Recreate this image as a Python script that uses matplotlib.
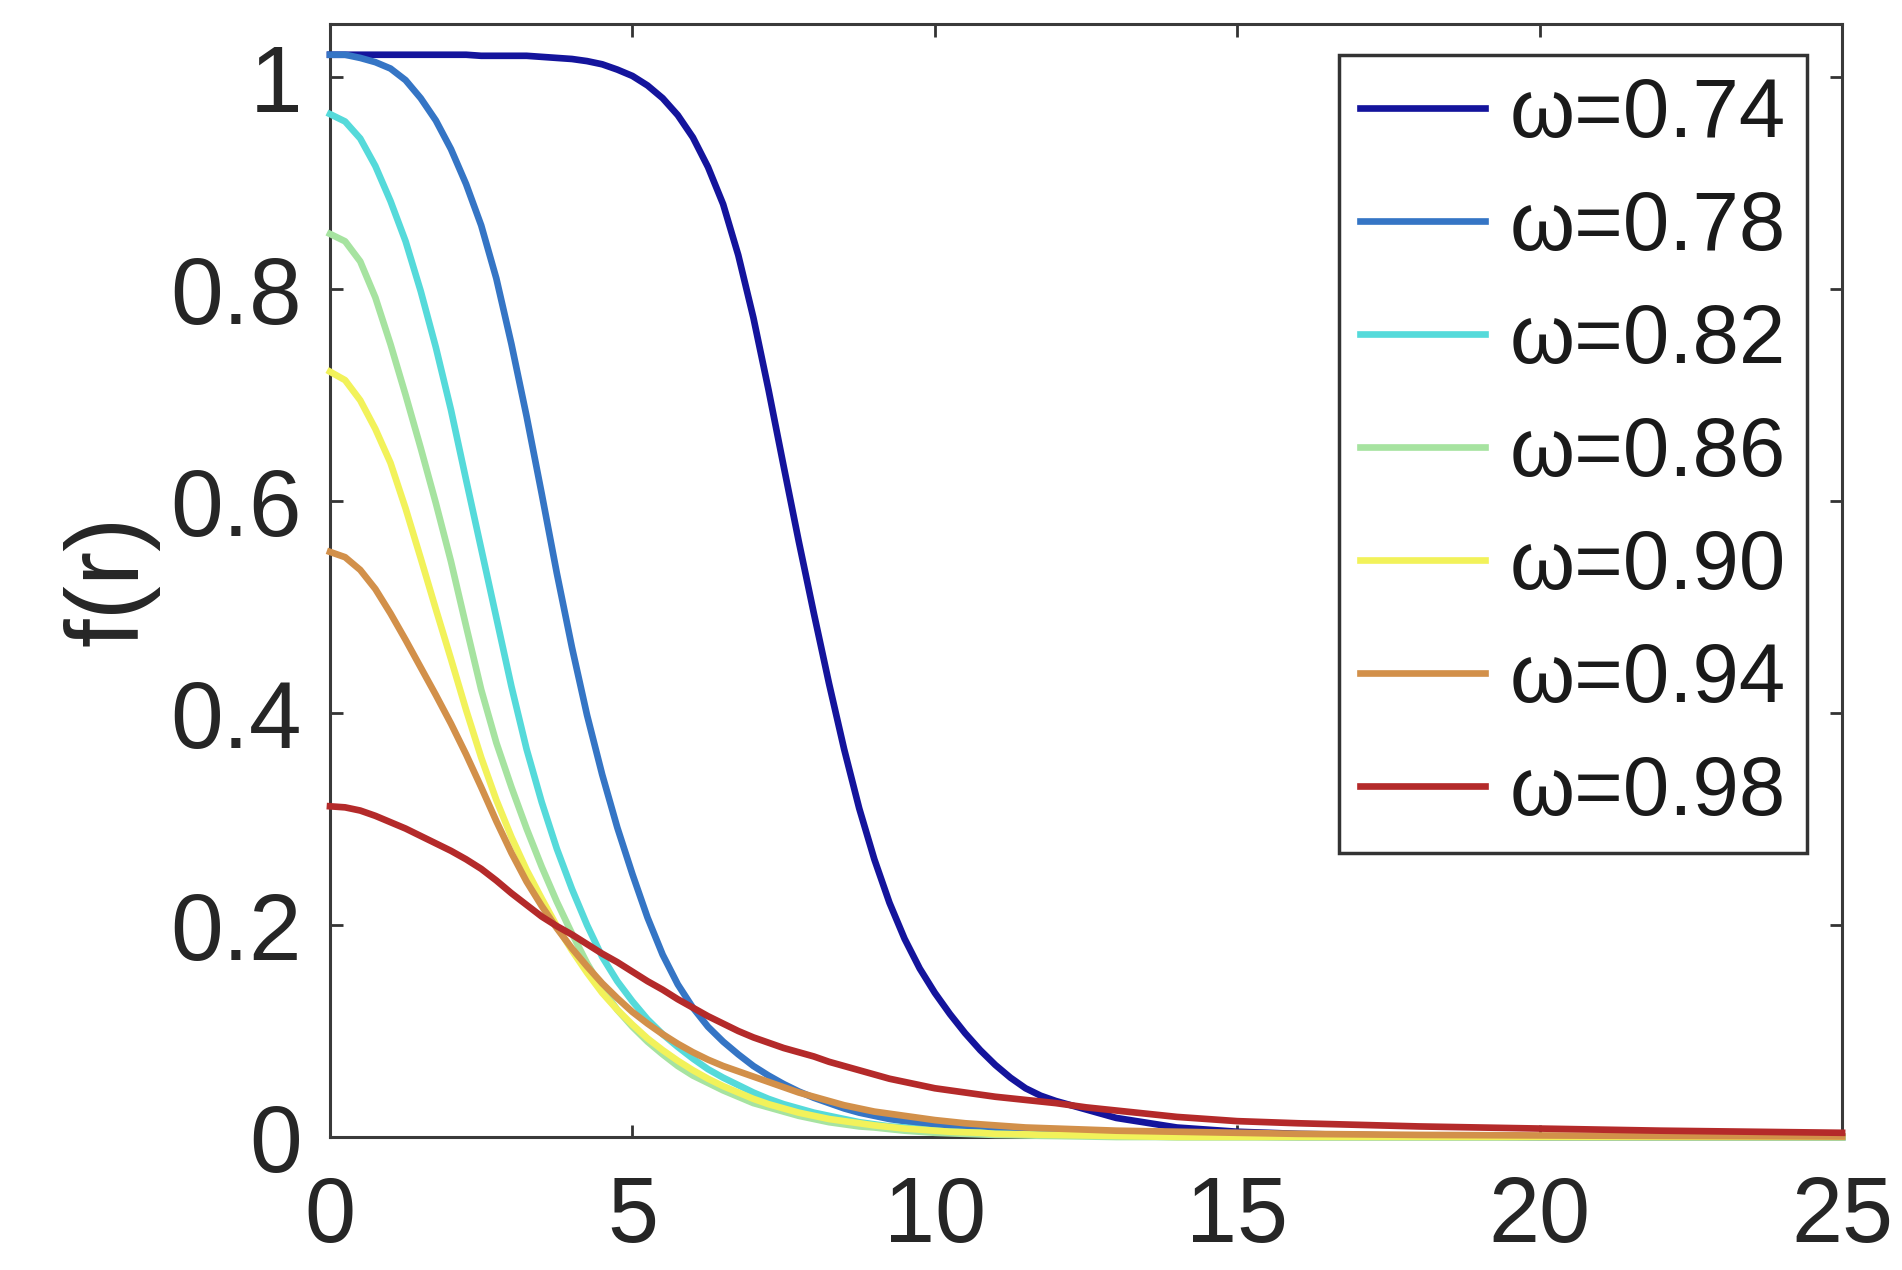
import matplotlib
matplotlib.use('Agg')
import matplotlib.pyplot as plt

plt.rcParams['font.family'] = ['Liberation Sans', 'DejaVu Sans']

# radial grid the values were read at
r = [0, 0.25, 0.5, 0.75, 1, 1.25, 1.5, 1.75,
     2, 2.25, 2.5, 2.75, 3, 3.25, 3.5, 3.75,
     4, 4.25, 4.5, 4.75, 5, 5.25, 5.5, 5.75,
     6, 6.25, 6.5, 6.75, 7, 7.25, 7.5, 7.75,
     8, 8.25, 8.5, 8.75, 9, 9.25, 9.5, 9.75,
     10, 10.25, 10.5, 10.75, 11, 11.25, 11.5, 11.75,
     12, 12.5, 13, 14, 15, 16, 18, 20, 22, 25]

f_074 = [1.021, 1.021, 1.021, 1.021, 1.021, 1.021, 1.021, 1.021,
         1.021, 1.021, 1.020, 1.020, 1.020, 1.020, 1.019, 1.018,
         1.017, 1.015, 1.012, 1.007, 1.001, 0.992, 0.980, 0.964,
         0.943, 0.915, 0.880, 0.832, 0.773, 0.705, 0.633, 0.562,
         0.494, 0.428, 0.366, 0.310, 0.262, 0.221, 0.187, 0.159,
         0.136, 0.116, 0.098, 0.082, 0.068, 0.056, 0.046, 0.039,
         0.034, 0.026, 0.018, 0.009, 0.005, 0.003, 0.001, 0.0, 0.0, 0.0]
f_078 = [1.021, 1.021, 1.018, 1.014, 1.008, 0.997, 0.980, 0.959,
         0.932, 0.899, 0.860, 0.810, 0.748, 0.680, 0.607, 0.532,
         0.462, 0.398, 0.342, 0.292, 0.248, 0.207, 0.172, 0.144,
         0.122, 0.104, 0.090, 0.078, 0.067, 0.058, 0.050, 0.043,
         0.037, 0.032, 0.027, 0.023, 0.020, 0.017, 0.015, 0.013,
         0.011, 0.0095, 0.008, 0.007, 0.006, 0.005, 0.004, 0.0035,
         0.003, 0.0025, 0.002, 0.001, 0.0005, 0.0, 0.0, 0.0, 0.0, 0.0]
f_082 = [0.965, 0.958, 0.942, 0.916, 0.883, 0.845, 0.798, 0.745,
         0.686, 0.620, 0.555, 0.490, 0.425, 0.366, 0.316, 0.272,
         0.234, 0.200, 0.170, 0.147, 0.128, 0.111, 0.097, 0.085,
         0.074, 0.064, 0.056, 0.049, 0.042, 0.036, 0.031, 0.027,
         0.023, 0.020, 0.017, 0.014, 0.012, 0.010, 0.009, 0.0075,
         0.006, 0.005, 0.0045, 0.004, 0.003, 0.0027, 0.0023, 0.002,
         0.002, 0.0015, 0.001, 0.0, 0.0, 0.0, 0.0, 0.0, 0.0, 0.0]
f_086 = [0.852, 0.845, 0.826, 0.792, 0.748, 0.700, 0.650, 0.598,
         0.543, 0.482, 0.422, 0.372, 0.330, 0.291, 0.255, 0.222,
         0.192, 0.164, 0.140, 0.120, 0.104, 0.090, 0.078, 0.067,
         0.058, 0.051, 0.044, 0.038, 0.032, 0.028, 0.024, 0.020,
         0.017, 0.014, 0.012, 0.010, 0.009, 0.0075, 0.006, 0.005,
         0.004, 0.0035, 0.003, 0.0025, 0.002, 0.0018, 0.0015, 0.0012,
         0.001, 0.0005, 0.0, 0.0, 0.0, 0.0, 0.0, 0.0, 0.0, 0.0]
f_090 = [0.722, 0.714, 0.695, 0.668, 0.636, 0.593, 0.546, 0.498,
         0.451, 0.403, 0.358, 0.318, 0.283, 0.252, 0.225, 0.199,
         0.176, 0.155, 0.136, 0.120, 0.106, 0.093, 0.082, 0.072,
         0.063, 0.055, 0.048, 0.042, 0.036, 0.031, 0.027, 0.023,
         0.020, 0.017, 0.015, 0.013, 0.011, 0.0095, 0.008, 0.007,
         0.006, 0.005, 0.0045, 0.004, 0.003, 0.0028, 0.0025, 0.0022,
         0.002, 0.0015, 0.001, 0.0, 0.0, 0.0, 0.0, 0.0, 0.0, 0.0]
f_094 = [0.552, 0.547, 0.535, 0.517, 0.494, 0.469, 0.443, 0.417,
         0.390, 0.361, 0.330, 0.298, 0.268, 0.241, 0.218, 0.197,
         0.178, 0.161, 0.145, 0.131, 0.118, 0.107, 0.097, 0.088,
         0.080, 0.073, 0.067, 0.062, 0.057, 0.052, 0.047, 0.042,
         0.038, 0.034, 0.030, 0.027, 0.024, 0.022, 0.020, 0.018,
         0.016, 0.0145, 0.013, 0.012, 0.011, 0.010, 0.009, 0.0085,
         0.008, 0.007, 0.006, 0.005, 0.004, 0.003, 0.002, 0.0015, 0.001, 0.0005]
f_098 = [0.312, 0.311, 0.308, 0.303, 0.297, 0.291, 0.284, 0.277,
         0.270, 0.262, 0.253, 0.242, 0.230, 0.219, 0.208, 0.199,
         0.191, 0.182, 0.173, 0.165, 0.156, 0.147, 0.139, 0.130,
         0.122, 0.114, 0.107, 0.100, 0.094, 0.089, 0.084, 0.080,
         0.076, 0.071, 0.067, 0.063, 0.059, 0.055, 0.052, 0.049,
         0.046, 0.044, 0.042, 0.040, 0.038, 0.0365, 0.035, 0.0335,
         0.032, 0.028, 0.025, 0.019, 0.015, 0.013, 0.010, 0.008, 0.006, 0.004]

omegas = ['0.74', '0.78', '0.82', '0.86', '0.90', '0.94', '0.98']
profiles = [f_074, f_078, f_082, f_086, f_090, f_094, f_098]
colors = ['#14149c', '#3575c5', '#55dada', '#a6e3a0', '#f2f25a', '#d2904a', '#b42a2a']

x_ticks = [0, 5, 10, 15, 20, 25]
y_ticks = [0, 0.2, 0.4, 0.6, 0.8, 1]

fig = plt.figure(figsize=(19.02, 12.70), dpi=100)
ax = fig.add_axes([0.1735, 0.1047, 0.795, 0.8764])

for om, prof, col in zip(omegas, profiles, colors):
    ax.plot(r, prof, color=col, lw=4.8, label='ω=' + om, zorder=3,
            clip_on=False, solid_joinstyle='round')

ax.set_xlim(0, 25)
ax.set_ylim(0, 1.05)
ax.set_xticks(x_ticks)
ax.set_xticklabels([str(t) for t in x_ticks])
ax.set_yticks(y_ticks)
ax.set_yticklabels(['0', '0.2', '0.4', '0.6', '0.8', '1'])

ax.tick_params(direction='in', length=9, width=2, colors='#333333',
               labelcolor='#262626', labelsize=68, top=True, right=True)
ax.tick_params(axis='y', pad=20)
ax.tick_params(axis='x', labelsize=66, pad=27)
for s in ax.spines.values():
    s.set_linewidth(2.2)
    s.set_color('#3a3a3a')

ax.set_ylabel('f(r)', fontsize=74, color='#262626', labelpad=8)

leg = ax.legend(loc='upper right', bbox_to_anchor=(0.977, 0.972),
                borderaxespad=0, fontsize=60, handlelength=1.5,
                handletextpad=0.3, borderpad=0.25, labelspacing=0.42,
                fancybox=False, framealpha=1)
leg.get_frame().set_edgecolor('#333333')
leg.get_frame().set_linewidth(2.5)
for t in leg.get_texts():
    t.set_color('#1a1a1a')

fig.savefig('out.png', dpi=100)
